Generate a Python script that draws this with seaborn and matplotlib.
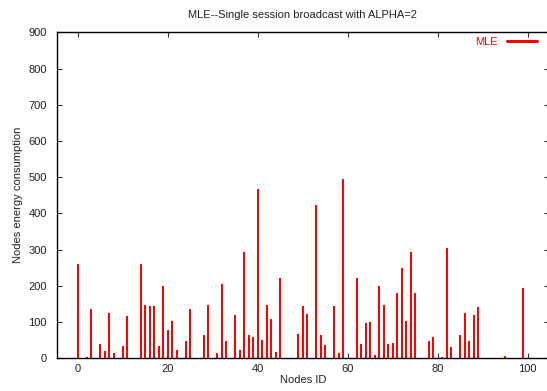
import matplotlib
matplotlib.use("Agg")
import matplotlib.pyplot as plt
from matplotlib.lines import Line2D
import numpy as np
import pandas as pd
import seaborn as sns

# Energy consumed by each node (ID 0..100) under MLE, single-session broadcast, alpha = 2
node_ids = list(range(101))
energy = [
    260, 0, 3, 135, 0, 39, 19, 124, 16, 0,        # 0-9
    33, 117, 0, 0, 260, 146, 144, 144, 35, 200,   # 10-19
    79, 103, 24, 0, 49, 135, 0, 0, 63, 148,       # 20-29
    0, 16, 204, 49, 0, 120, 24, 293, 63, 60,      # 30-39
    468, 50, 147, 108, 18, 221, 0, 0, 0, 67,      # 40-49
    144, 121, 0, 422, 63, 36, 0, 144, 15, 494,    # 50-59
    0, 0, 221, 39, 97, 99, 8, 199, 148, 39,       # 60-69
    43, 179, 250, 102, 293, 179, 0, 0, 47, 60,    # 70-79
    0, 3, 305, 32, 0, 63, 124, 48, 120, 143,      # 80-89
    0, 0, 0, 1, 0, 7, 1, 0, 0, 193,               # 90-99
    0,                                            # 100
]
x_ticks = [0, 20, 40, 60, 80, 100]
y_ticks = [0, 100, 200, 300, 400, 500, 600, 700, 800, 900]

title = "MLE--Single session broadcast with ALPHA=2"
x_label = "Nodes ID"
y_label = "Nodes energy consumption"
series_name = "MLE"

df = pd.DataFrame({"node": node_ids, "energy": energy})

sns.set_style("white")
plt.rcParams["font.family"] = ["Liberation Sans", "DejaVu Sans"]
plt.rcParams["font.size"] = 8

fig = plt.figure(figsize=(5.47, 3.91), dpi=100)
ax = fig.add_axes([0.1037, 0.0836, 0.8999, 0.8338])

sns.barplot(data=df, x="node", y="energy", native_scale=True, width=0.5,
            color="#ff0000", saturation=1, edgecolor="none", linewidth=0,
            errorbar=None, ax=ax)

ax.set_xlim(-4.67, 104.7)
ax.set_ylim(0, 900)
ax.set_xticks(x_ticks)
ax.set_xticklabels([str(t) for t in x_ticks])
ax.set_yticks(y_ticks)
ax.set_yticklabels([str(t) for t in y_ticks])

for s in ax.spines.values():
    s.set_visible(True)
    s.set_color("#000000")
    s.set_linewidth(1.0)

ax.tick_params(axis="both", which="major", direction="in", length=3.5, width=0.8,
               color="#333333", labelsize=8, labelcolor="#222222",
               top=True, right=True, bottom=True, left=True)
ax.tick_params(axis="x", pad=4)
ax.tick_params(axis="y", pad=7)

ax.set_title(title, fontsize=8, color="#222222", pad=10)
ax.set_xlabel(x_label, fontsize=8, color="#222222", labelpad=1)
ax.set_ylabel(y_label, fontsize=8, color="#222222", labelpad=4)

handle = Line2D([0], [0], color="#ff0000", linewidth=2.2)
leg = ax.legend([handle], [series_name], loc="upper right", frameon=False,
                markerfirst=False, handlelength=2.7, handletextpad=0.8,
                fontsize=8, borderaxespad=0, borderpad=0,
                bbox_to_anchor=(0.9758, 0.9856))
for t in leg.get_texts():
    t.set_color("#ff0000")

fig.savefig("out.png", dpi=100)
